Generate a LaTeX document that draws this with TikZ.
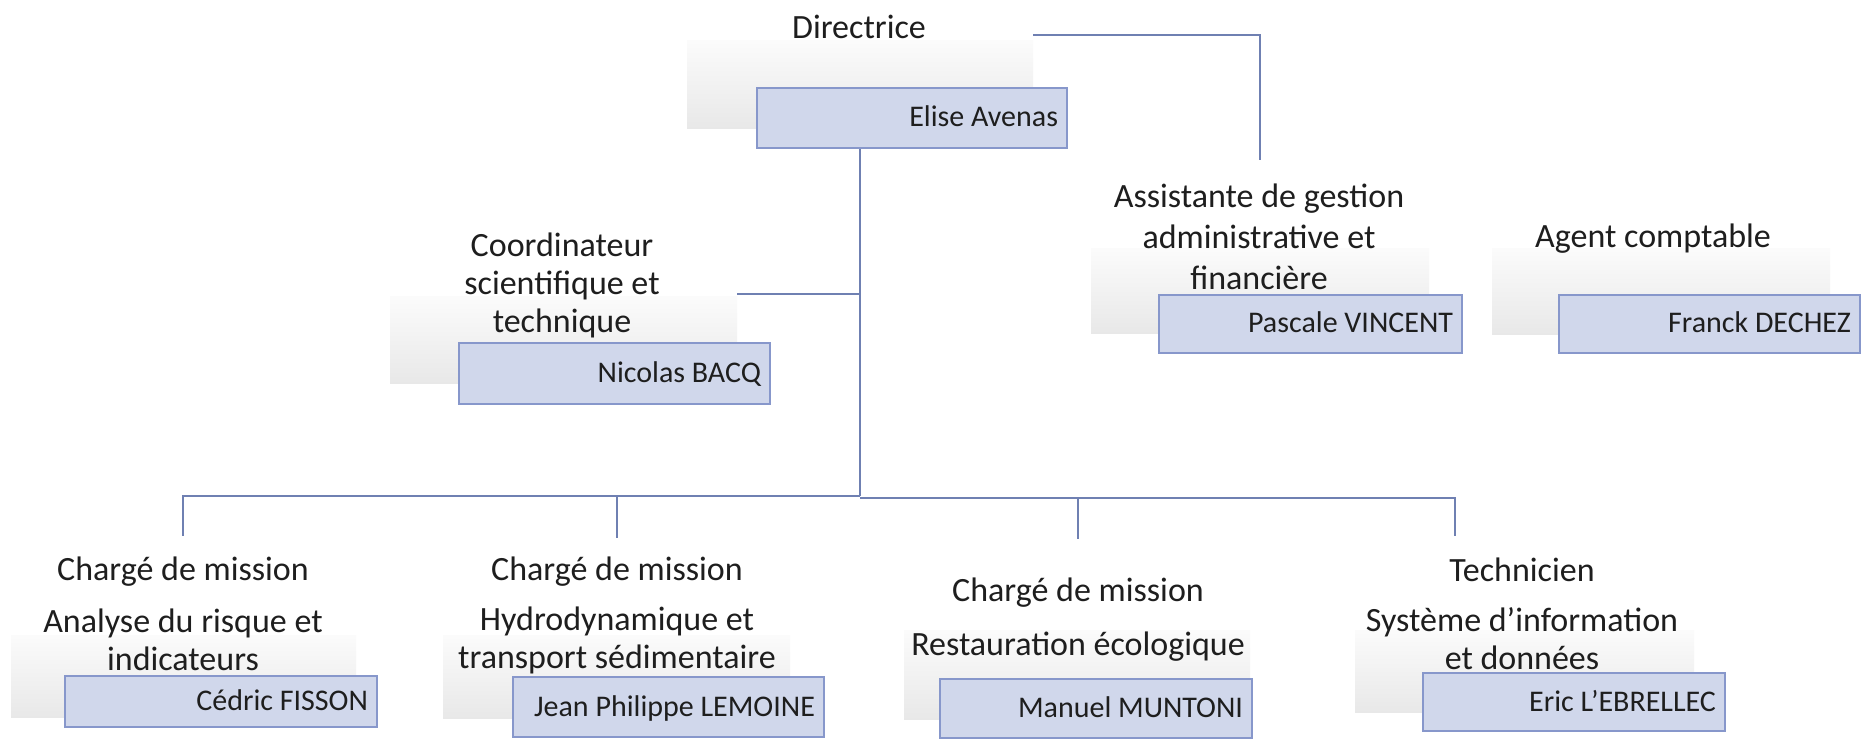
\documentclass[tikz,border=0pt]{standalone}
\usepackage{fontspec}
\setmainfont{Carlito}
\definecolor{boxfill}{HTML}{D0D7EB}
\definecolor{boxline}{HTML}{8797CB}
\definecolor{conncol}{HTML}{6F80B2}
\definecolor{txt}{HTML}{1E1E1E}
\begin{document}
\begin{tikzpicture}[x=1pt,y=-1pt,
  title/.style={font=\fontsize{34}{38}\selectfont, text=txt, align=center, inner sep=0pt},
  namebox/.style={draw=boxline, line width=1.5pt, fill=boxfill, inner ysep=0pt, inner xsep=9pt,
    align=flush right, text height=21pt, text depth=3pt, font=\fontsize{30}{36}\selectfont, text=txt},
  shadebox/.style={top color=gray!3, bottom color=gray!18, draw=none, inner sep=0pt, anchor=north west},
  conn/.style={draw=conncol, line width=2pt}]
\useasboundingbox (0,0) rectangle (1861,743);
\fill[white] (0,0) rectangle (1861,743);

% connector anchor coordinates
\coordinate (dirR) at (1033,35);
\coordinate (assT) at (1260,160);
\coordinate (trunkTop) at (860,148);
\coordinate (hub) at (860,496);
\coordinate (hubB) at (860,498);
\coordinate (nicR) at (737,294);
\coordinate (d1) at (183,536);
\coordinate (d2) at (617,538);
\coordinate (d3) at (1078,539);
\coordinate (d4) at (1455,536);

% connectors
\draw[conn] (dirR) -| (assT);
\draw[conn] (trunkTop) -- (hub);
\draw[conn] (nicR) -- (trunkTop |- nicR);
\draw[conn] (hub) -| (d1);
\draw[conn] (hub -| d2) -- (d2);
\draw[conn] (hubB) -| (d4);
\draw[conn] (hubB -| d3) -- (d3);

% shaded backgrounds
\node[shadebox, minimum width=346pt, minimum height=88pt] (g1) at (687,40) {};
\node[shadebox, minimum width=347pt, minimum height=87pt] (g2) at (390,296) {};
\node[shadebox, minimum width=338pt, minimum height=85pt] (g3) at (1091,248) {};
\node[shadebox, minimum width=338pt, minimum height=86pt] (g4) at (1492,248) {};
\node[shadebox, minimum width=345pt, minimum height=82pt] (g5) at (11,635) {};
\node[shadebox, minimum width=347pt, minimum height=83pt] (g6) at (443,635) {};
\node[shadebox, minimum width=346pt, minimum height=89pt] (g7) at (904,630) {};
\node[shadebox, minimum width=339pt, minimum height=82pt] (g8) at (1355,630) {};

% titles
\node[title] (t0) at (859,27) {Directrice};
\node[title] (t1) at (562,285) {Coordinateur\\scientifique et\\technique};
\node[title, font=\fontsize{34}{41}\selectfont] (t2) at (1259,237) {Assistante de gestion\\administrative et\\financière};
\node[title] (t3) at (1653,239) {Agent comptable};
\node[title] (b1a) at (183,572) {Chargé de mission};
\node[title] (b1b) at (183,640) {Analyse du risque et\\indicateurs};
\node[title] (b2a) at (617,572) {Chargé de mission};
\node[title] (b2b) at (617,640) {Hydrodynamique et\\transport sédimentaire};
\node[title] (b3a) at (1078,593) {Chargé de mission};
\node[title] (b3b) at (1078,647) {Restauration écologique};
\node[title] (b4a) at (1522,570) {Technicien};
\node[title] (b4b) at (1522,639) {Système d’information\\et données};

% name boxes
\node[namebox, text width=292pt, minimum height=60pt] (elise) at (912,118) {Elise Avenas};
\node[namebox, text width=293pt, minimum height=61pt] (nicolas) at (614.5,373.5) {Nicolas BACQ};
\node[namebox, text width=285pt, minimum height=58pt] (pascale) at (1310.5,324) {Pascale VINCENT};
\node[namebox, text width=283pt, minimum height=58pt] (franck) at (1709.5,324) {Franck DECHEZ};
\node[namebox, text width=294pt, minimum height=51pt] (cedric) at (221,701.5) {Cédric FISSON};
\node[namebox, text width=293pt, minimum height=60pt] (jean) at (668.5,707) {Jean Philippe LEMOINE};
\node[namebox, text width=294pt, minimum height=59pt] (manuel) at (1096,708.5) {Manuel MUNTONI};
\node[namebox, text width=284pt, minimum height=58pt] (eric) at (1574,702) {Eric L’EBRELLEC};
\end{tikzpicture}
\end{document}
